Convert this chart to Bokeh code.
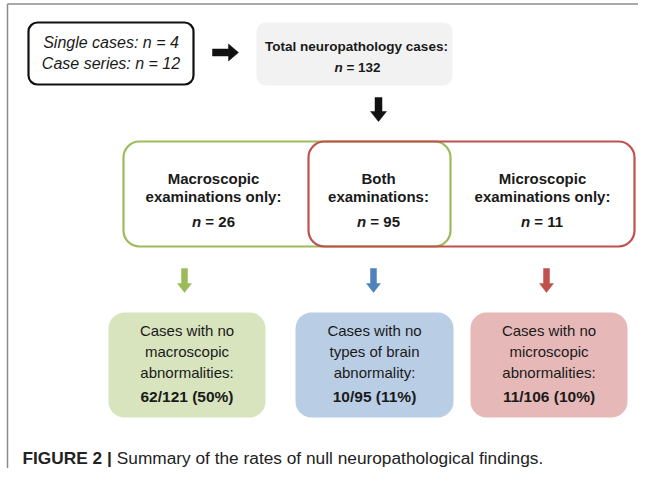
from bokeh.plotting import figure
from bokeh.models import Range1d, BoxAnnotation
from bokeh.core.properties import value
from bokeh.embed import file_html
from bokeh.resources import INLINE

# ---------------- data ----------------
single_cases_n = 4
case_series_n = 12
total_cases_n = 132
group_titles = ["Macroscopic", "Both", "Microscopic"]
group_subtitles = ["examinations only:", "examinations:", "examinations only:"]
group_n = [26, 95, 11]
outcome_line1 = ["Cases with no", "Cases with no", "Cases with no"]
outcome_line2 = ["macroscopic", "types of brain", "microscopic"]
outcome_line3 = ["abnormalities:", "abnormality:", "abnormalities:"]
null_counts = [62, 10, 11]
denominators = [121, 95, 106]
null_pct = [50, 11, 10]
caption_bold = "FIGURE 2 |"
caption_text = "Summary of the rates of null neuropathological findings."

# ---------------- styles ----------------
FONT = "Liberation Sans"
TXT = "#1a1a1a"
GREEN_LINE, RED_LINE = "#9bbb59", "#c0504d"
ARROW_COLS = ["#9bbb59", "#4f81bd", "#c0504d"]
BOX_FILLS = ["#d7e4bd", "#b9cde5", "#e6b9b8"]

W, H = 638, 468
p = figure(width=W, height=H, x_range=Range1d(0, W), y_range=Range1d(H, 0),
           output_backend="svg", toolbar_location=None, min_border=0,
           x_axis_location=None, y_axis_location=None)
p.grid.visible = False
p.outline_line_color = None
p.background_fill_color = "white"
p.border_fill_color = "white"

# frame lines (top and left)
p.segment(x0=[7, 7], y0=[3.5, 3.5], x1=[W, 7], y1=[3.5, H],
          line_color="#8c8c8c", line_width=1.5)


def rbox(l, r, t, b, radius, fill=None, line=None, lw=2.0):
    p.add_layout(BoxAnnotation(left=l, right=r, top=t, bottom=b, border_radius=radius,
                               fill_color=fill if fill else "white", fill_alpha=1 if fill else 0,
                               line_color=line if line else "white", line_alpha=1 if line else 0,
                               line_width=lw, level="underlay"))


def down_arrow(cx, y0, y1, sw, hw, hl, color):
    xs = [cx - sw / 2, cx + sw / 2, cx + sw / 2, cx + hw / 2, cx, cx - hw / 2, cx - sw / 2]
    ys = [y0, y0, y1 - hl, y1 - hl, y1, y1 - hl, y1 - hl]
    p.patch(xs, ys, fill_color=color, line_color=color, line_width=0.5)


def right_arrow(cy, x0, x1, sw, hw, hl, color):
    ys = [cy - sw / 2, cy + sw / 2, cy + sw / 2, cy + hw / 2, cy, cy - hw / 2, cy - sw / 2]
    xs = [x0, x0, x1 - hl, x1 - hl, x1, x1 - hl, x1 - hl]
    p.patch(xs, ys, fill_color=color, line_color=color, line_width=0.5)


def txt(x, y, s, size, style="normal", align="center", color=TXT):
    p.text(x=[x], y=[y], text=[s], text_font=value(FONT), text_font_size=f"{size}px",
           text_font_style=style, text_align=align, text_baseline="middle", text_color=color)


BOLD_W = {" ": 278, "=": 584, "/": 278, "(": 333, ")": 333, "%": 889, "|": 280,
          "F": 611, "I": 278, "G": 778, "U": 722, "R": 722, "E": 667}
for d in "0123456789":
    BOLD_W[d] = 556


def bold_width(s, size):
    return sum(BOLD_W.get(c, 556) for c in s) * size / 1000.0


def n_equals(cx, y, num, size):
    rest = f"= {num}"
    wn = 0.611 * size + 0.278 * size
    x0 = cx - (wn + bold_width(rest, size)) / 2
    txt(x0, y, "n", size, "bold italic", "left")
    txt(x0 + wn, y, rest, size, "bold", "left")


# ---------------- top row ----------------
rbox(28, 193, 22, 84, 9, line="#111111", lw=2.2)
txt(110.5, 42, f"Single cases: n = {single_cases_n}", 16, "italic")
txt(110.5, 63, f"Case series: n = {case_series_n}", 16, "italic")

right_arrow(52, 212, 238, 7, 17, 10, "#111111")

rbox(256, 452, 22, 85, 9, fill="#f2f2f2")
txt(356, 46, "Total neuropathology cases:", 13.5, "bold")
n_equals(357, 67, total_cases_n, 13.5)

down_arrow(378, 97, 121, 7, 16, 10, "#111111")

# ---------------- middle row ----------------
rbox(123, 450, 141, 246, 16, line=GREEN_LINE, lw=2.2)
rbox(308, 634, 141, 246, 16, line=RED_LINE, lw=2.2)
mid_cx = [213, 378, 542]
for i in range(3):
    txt(mid_cx[i], 178, group_titles[i], 15, "bold")
    txt(mid_cx[i], 196, group_subtitles[i], 15, "bold")
    n_equals(mid_cx[i], 221, group_n[i], 15)

# ---------------- bottom row ----------------
box_l = [108, 295, 470]
box_r = [265, 453, 627]
arrow_x = [184, 373, 546]
for i in range(3):
    cx = (box_l[i] + box_r[i]) / 2
    down_arrow(arrow_x[i], 268, 292, 6, 14, 9, ARROW_COLS[i])
    rbox(box_l[i], box_r[i], 312, 417, 16, fill=BOX_FILLS[i])
    txt(cx, 330, outcome_line1[i], 15)
    txt(cx, 351, outcome_line2[i], 15)
    txt(cx, 372, outcome_line3[i], 15)
    txt(cx, 396, f"{null_counts[i]}/{denominators[i]} ({null_pct[i]}%)", 15.5, "bold")

# ---------------- caption ----------------
cap_x = 22
cap_size = 17.3
txt(cap_x, 457, caption_bold, cap_size, "bold", "left", "#222222")
txt(cap_x + bold_width(caption_bold + " ", cap_size), 457, caption_text, cap_size, "normal", "left", "#222222")

open("out.html", "w").write(file_html(p, INLINE))
